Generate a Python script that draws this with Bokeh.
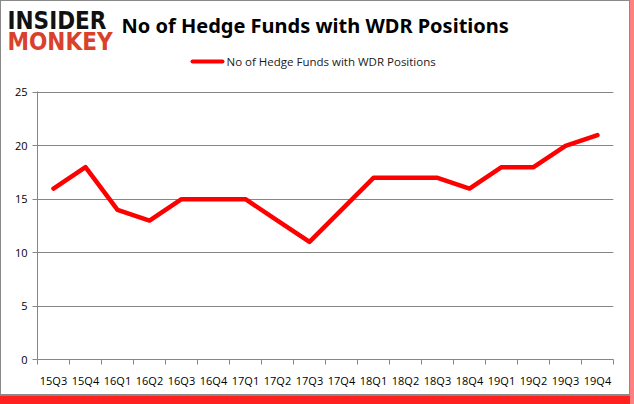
from bokeh.plotting import figure
from bokeh.layouts import column, row
from bokeh.models import Range1d, FixedTicker
from bokeh.core.properties import value
from bokeh.embed import file_html
from bokeh.resources import INLINE

quarters = ["15Q3", "15Q4", "16Q1", "16Q2", "16Q3", "16Q4", "17Q1", "17Q2", "17Q3",
            "17Q4", "18Q1", "18Q2", "18Q3", "18Q4", "19Q1", "19Q2", "19Q3", "19Q4"]
funds = [16, 18, 14, 13, 15, 15, 15, 13, 11, 14, 17, 17, 17, 16, 18, 18, 20, 21]
y_ticks = [0, 5, 10, 15, 20, 25]
series_name = "No of Hedge Funds with WDR Positions"
title_text = "No of Hedge Funds with WDR Positions"
logo_top = "INSIDER"
logo_bottom = "MONKEY"

W = 634
H1 = 78          # header height
H2 = 404 - H1    # chart height
FL, FR = 37, 613
FT, FB = 91 - H1, 359 - H1

# ---------------- header (logo, title, legend) ----------------
hdr = figure(width=W, height=H1, output_backend="svg", toolbar_location=None,
             x_range=Range1d(0, W), y_range=Range1d(H1, 0),
             min_border=0, min_border_left=0, min_border_right=0,
             min_border_top=0, min_border_bottom=0,
             x_axis_type=None, y_axis_type=None)
hdr.grid.visible = False
hdr.outline_line_color = None
hdr.background_fill_alpha = 0
hdr.border_fill_alpha = 0

hdr.text(x=[7], y=[20], text=[logo_top], text_font=value("DejaVu Sans Condensed"),
         text_font_style="bold", text_font_size="24px", text_color="#111111",
         text_baseline="middle")
hdr.text(x=[7], y=[41], text=[logo_bottom], text_font=value("DejaVu Sans Condensed"),
         text_font_style="bold", text_font_size="24px", text_color="#d9412b",
         text_baseline="middle")
hdr.text(x=[121], y=[25], text=[title_text], text_font=value("Noto Sans"),
         text_font_style="bold", text_font_size="20px", text_color="#000000",
         text_baseline="middle")
hdr.line(x=[192, 222], y=[61, 61], line_color="#ff0000", line_width=4, line_cap="round")
hdr.text(x=[226], y=[61], text=[series_name], text_font=value("Open Sans"),
         text_font_size="11.5px", text_color="#1a1a1a", text_baseline="middle")

# ---------------- chart ----------------
p = figure(width=W, height=H2, output_backend="svg", toolbar_location=None,
           x_range=Range1d(0, len(quarters)), y_range=Range1d(0, 25.08),
           min_border_left=FL, min_border_right=W - FR,
           min_border_top=FT, min_border_bottom=H2 - FB)
p.outline_line_color = None
p.background_fill_color = "white"
p.border_fill_alpha = 0

xs = [i + 0.5 for i in range(len(quarters))]
p.line(xs, funds, line_color="#ff0000", line_width=4.5, line_join="round", line_cap="round")

p.xaxis.ticker = FixedTicker(ticks=xs, minor_ticks=list(range(len(quarters) + 1)))
p.xaxis.major_label_overrides = {x: q for x, q in zip(xs, quarters)}
p.xaxis.major_tick_out = 0
p.xaxis.major_tick_in = 0
p.xaxis.minor_tick_out = 5
p.xaxis.minor_tick_in = 0
p.xaxis.minor_tick_line_color = "#868686"
p.xaxis.axis_line_color = "#868686"
p.xaxis.major_label_text_font = "Open Sans"
p.xaxis.major_label_text_font_size = "11px"
p.xaxis.major_label_text_color = "#000000"
p.xaxis.major_label_standoff = 8

p.yaxis.ticker = FixedTicker(ticks=y_ticks)
p.yaxis.major_tick_out = 5
p.yaxis.major_tick_in = 0
p.yaxis.minor_tick_line_color = None
p.yaxis.major_tick_line_color = "#868686"
p.yaxis.axis_line_color = "#868686"
p.yaxis.major_label_text_font = "Open Sans"
p.yaxis.major_label_text_font_size = "11px"
p.yaxis.major_label_text_color = "#000000"
p.yaxis.major_label_standoff = 5

p.xgrid.grid_line_color = None
p.ygrid.ticker = FixedTicker(ticks=y_ticks)
p.ygrid.grid_line_color = "#868686"

page = column(row(hdr), p, spacing=0, styles={
    "background-color": "white",
    "box-shadow": ("inset -4px 0 0 0 #ff8080, inset 0 -8px 0 0 #ff2020, "
                   "inset -5px -10px 0 0 #8a8a8a, inset 1px 1px 0 0 #8a8a8a"),
})

with open("out.html", "w") as f:
    f.write(file_html(page, INLINE))
